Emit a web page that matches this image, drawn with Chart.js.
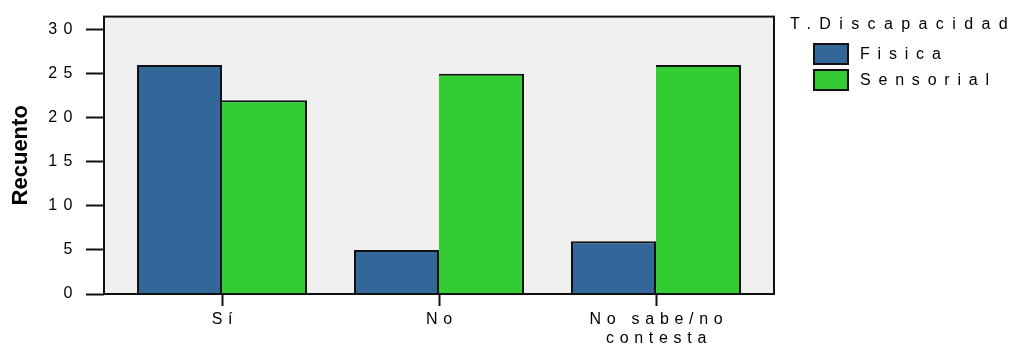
<!DOCTYPE html>
<html><head><meta charset="utf-8">
<script src="https://cdn.jsdelivr.net/npm/chart.js@4/dist/chart.umd.min.js"></script>
<style>
html,body{margin:0;padding:0;background:#fff;}
#wrap{position:relative;width:1016px;height:347px;}
#legend{position:absolute;left:790px;top:15px;font-family:"Liberation Sans",Arial,sans-serif;font-size:16px;color:#000;letter-spacing:8.4px;white-space:nowrap;}
#legend .title{line-height:18px;height:26px;}
#legend .item{display:flex;align-items:center;height:26px;margin-left:23px;letter-spacing:7.8px;}
#legend .box{width:36px;height:22px;box-sizing:border-box;border:2px solid #111;margin-right:11px;}
</style>
</head><body>
<div id="wrap"><canvas id="c"></canvas><div id="legend"></div></div>
<script>
const categories = ['Sí', 'No', ['No sabe/no', 'contesta']];
const seriesNames = ['Fisica', 'Sensorial'];
const fisica = [26, 5, 6];
const sensorial = [22, 25, 26];
const yTickValues = [0, 5, 10, 15, 20, 25, 30];
const legendTitle = 'T.Discapacidad';
const yTitle = 'Recuento';

const FONT = '"Liberation Sans", Arial, sans-serif';
const INK = '#000';

function spaced(px) {
  return function (scale) {
    if (scale._spacedPatched) return;
    const orig = scale.drawLabels;
    scale.drawLabels = function (ca) {
      const ctx = this.ctx;
      ctx.save();
      ctx.letterSpacing = px + 'px';
      orig.call(this, ca);
      ctx.restore();
    };
    scale._spacedPatched = true;
  };
}

const framePlugin = {
  id: 'frame',
  beforeDraw(chart) {
    const {ctx, chartArea: a} = chart;
    ctx.save();
    ctx.fillStyle = '#f0f0f0';
    ctx.fillRect(a.left, a.top, a.right - a.left, a.bottom - a.top);
    ctx.restore();
  },
  afterDatasetsDraw(chart) {
    const {ctx, chartArea: a} = chart;
    ctx.save();
    ctx.strokeStyle = '#111';
    ctx.lineWidth = 2;
    ctx.strokeRect(a.left, a.top, a.right - a.left, a.bottom - a.top);
    ctx.restore();
  }
};

// category spacing / edge margin (in category units) to match the original layout
const EDGE = 118 / 217;
const CAT_PCT = 170 / 217;

const chart = new Chart(document.getElementById('c'), {
  type: 'bar',
  data: {
    labels: categories,
    datasets: [
      {label: seriesNames[0], data: fisica, backgroundColor: '#336699', borderColor: '#111',
       borderWidth: {top: 2, left: 2, right: 2, bottom: 0}, borderSkipped: false},
      {label: seriesNames[1], data: sensorial, backgroundColor: '#33cc33', borderColor: '#111',
       borderWidth: {top: 2, left: 0, right: 2, bottom: 0}, borderSkipped: false}
    ]
  },
  options: {
    responsive: true,
    maintainAspectRatio: false,
    animation: false,
    events: [],
    layout: {padding: {top: 13, right: 242, bottom: 0, left: 0}},
    datasets: {bar: {categoryPercentage: CAT_PCT, barPercentage: 1}},
    plugins: {legend: {display: false}, tooltip: {enabled: false}},
    scales: {
      x: {
        offset: true,
        grid: {offset: false, drawOnChartArea: false, drawTicks: true, tickLength: 12, tickColor: '#111', tickWidth: 2},
        border: {display: false},
        ticks: {font: {family: FONT, size: 16, lineHeight: 1.2}, color: INK, padding: 4, labelOffset: 3, maxRotation: 0, autoSkip: false},
        afterBuildTicks(scale) {
          scale._startValue = -EDGE;
          scale._valueRange = (categories.length - 1) + 2 * EDGE;
        },
        afterFit(scale) { scale.height = 53; },
        afterUpdate: spaced(5.7)
      },
      y: {
        min: 0,
        max: 31.5,
        grid: {drawOnChartArea: false, drawTicks: true, tickLength: 18, tickColor: '#111', tickWidth: 2},
        border: {display: false},
        ticks: {font: {family: FONT, size: 16}, color: INK, padding: 7},
        afterBuildTicks(scale) { scale.ticks = yTickValues.map(v => ({value: v})); },
        title: {display: true, text: yTitle, font: {family: FONT, size: 22, weight: 'bold'}, color: INK, padding: {top: 8, bottom: 0}},
        afterFit(scale) { scale.width = 104; },
        afterUpdate: spaced(6.5)
      }
    }
  },
  plugins: [framePlugin]
});

// legend built from the chart's datasets
const lg = document.getElementById('legend');
const t = document.createElement('div');
t.className = 'title';
t.textContent = legendTitle;
lg.appendChild(t);
chart.data.datasets.forEach(ds => {
  const row = document.createElement('div');
  row.className = 'item';
  const box = document.createElement('div');
  box.className = 'box';
  box.style.background = ds.backgroundColor;
  const txt = document.createElement('span');
  txt.textContent = ds.label;
  row.appendChild(box);
  row.appendChild(txt);
  lg.appendChild(row);
});
</script>
</body></html>
